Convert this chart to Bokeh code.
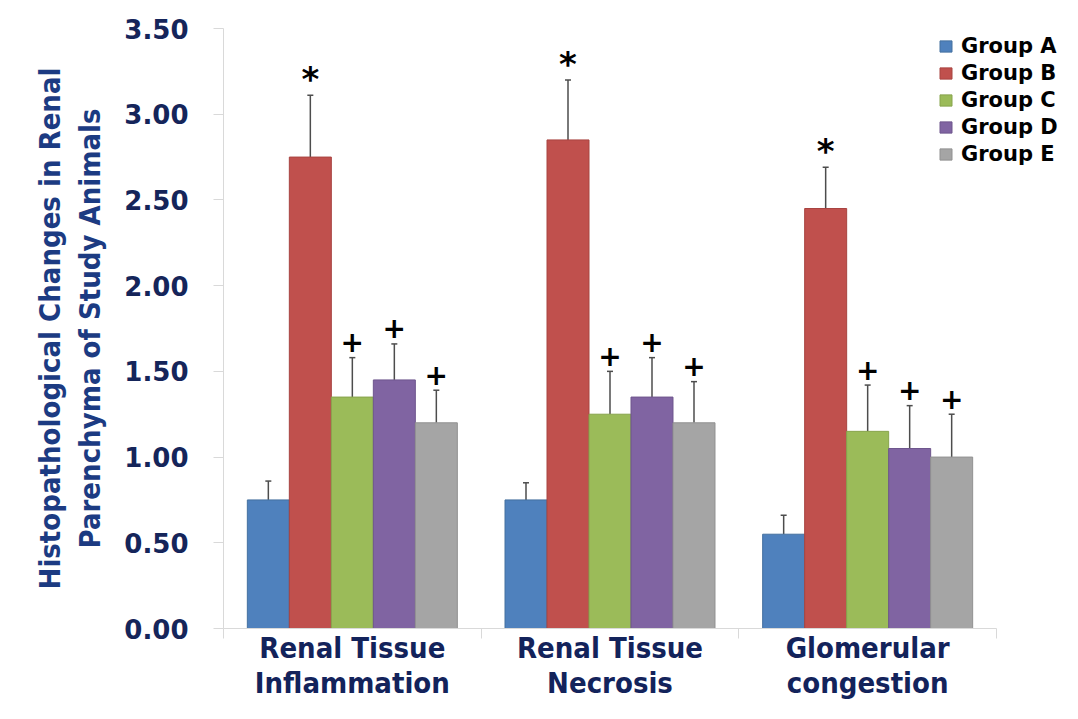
from bokeh.plotting import figure
from bokeh.models import (ColumnDataSource, Range1d, Whisker, TeeHead, Legend,
                          LegendItem, NumeralTickFormatter, FixedTicker)
from bokeh.core.properties import value
from bokeh.embed import file_html
from bokeh.resources import INLINE

# ---------------- data ----------------
categories = ["Renal Tissue\nInflammation", "Renal Tissue\nNecrosis", "Glomerular\ncongestion"]
groups = ["Group A", "Group B", "Group C", "Group D", "Group E"]

group_a = [0.75, 0.75, 0.55]
group_b = [2.75, 2.85, 2.45]
group_c = [1.35, 1.25, 1.15]
group_d = [1.45, 1.35, 1.05]
group_e = [1.20, 1.20, 1.00]

err_a = [0.11, 0.10, 0.11]
err_b = [0.36, 0.35, 0.24]
err_c = [0.23, 0.25, 0.27]
err_d = [0.21, 0.23, 0.25]
err_e = [0.19, 0.24, 0.25]

marks_a = ["", "", ""]
marks_b = ["*", "*", "*"]
marks_c = ["+", "+", "+"]
marks_d = ["+", "+", "+"]
marks_e = ["+", "+", "+"]

y_ticks = [0.0, 0.5, 1.0, 1.5, 2.0, 2.5, 3.0, 3.5]

values = [group_a, group_b, group_c, group_d, group_e]
errors = [err_a, err_b, err_c, err_d, err_e]
marks = [marks_a, marks_b, marks_c, marks_d, marks_e]

colors = ["#4F81BD", "#C0504D", "#9BBB59", "#8064A2", "#A5A5A5"]
edges = ["#44709F", "#A84441", "#87A44C", "#6E568D", "#919191"]

n_cat = len(categories)
bar_w = 0.163
offsets = [-2 * bar_w, -bar_w, 0.0, bar_w, 2 * bar_w]
centers = [i + 0.5 for i in range(n_cat)]

FIG_W, FIG_H = 1062, 703
LEFT, TOP, BOTTOM = 223, 28, 74
# frame extends to the right edge so the legend can overlap, axis stops at the last category
x_end = n_cat * (FIG_W - LEFT) / 773.0

narrow = "'Liberation Sans Narrow', 'Arial Narrow', 'DejaVu Sans Condensed', sans-serif"

p = figure(x_range=Range1d(0, x_end), y_range=Range1d(0, 3.5),
           width=FIG_W, height=FIG_H, output_backend="svg", toolbar_location=None,
           min_border_left=LEFT, min_border_right=0, min_border_top=TOP,
           min_border_bottom=BOTTOM)

p.xgrid.grid_line_color = None
p.ygrid.grid_line_color = None
p.outline_line_color = None
p.background_fill_color = "white"

items = []
for i, g in enumerate(groups):
    xs = [c + offsets[i] for c in centers]
    src = ColumnDataSource(dict(
        x=xs,
        val=values[i],
        upper=[v + e for v, e in zip(values[i], errors[i])],
        mark=marks[i],
    ))
    r = p.vbar(x="x", top="val", width=bar_w, bottom=0, source=src,
               fill_color=colors[i], line_color=edges[i], line_width=1)
    items.append(LegendItem(label=g, renderers=[r]))
    w = Whisker(base="x", lower="val", upper="upper", source=src,
                dimension="height", line_color="#4D4D4D", line_width=1.5,
                upper_head=TeeHead(size=6, line_color="#4D4D4D", line_width=1.5),
                lower_head=None)
    p.add_layout(w)
    is_star = marks[i][0] == "*"
    p.text(x="x", y="upper", text="mark", source=src,
           text_font=value("DejaVu Sans"), text_font_style="bold",
           text_font_size="34px" if is_star else "28px",
           text_align="center", text_baseline="middle",
           y_offset=-16, text_color="black")

legend = Legend(items=items, location=(715, 462), orientation="vertical")
legend.label_text_font = "DejaVu Sans"
legend.label_text_font_style = "bold"
legend.label_text_font_size = "21px"
legend.label_text_color = "black"
legend.label_height = 20
legend.glyph_height = 14
legend.glyph_width = 15
legend.label_standoff = 8
legend.spacing = 3
legend.padding = 0
legend.margin = 0
legend.border_line_color = None
legend.background_fill_alpha = 0
p.add_layout(legend)

# y axis
p.yaxis.ticker = FixedTicker(ticks=y_ticks)
p.yaxis.formatter = NumeralTickFormatter(format="0.00")
p.yaxis.axis_line_color = "#D9D9D9"
p.yaxis.major_tick_line_color = "#D9D9D9"
p.yaxis.major_tick_out = 10
p.yaxis.major_tick_in = 0
p.yaxis.minor_tick_line_color = None
p.yaxis.major_label_standoff = 25
p.yaxis.major_label_text_font = "DejaVu Sans"
p.yaxis.major_label_text_font_style = "bold"
p.yaxis.major_label_text_font_size = "26px"
p.yaxis.major_label_text_color = "#15255A"
p.yaxis.axis_label = "Histopathological Changes in Renal\nParenchyma of Study Animals"
p.yaxis.axis_label_text_font = narrow
p.yaxis.axis_label_text_font_style = "bold"
p.yaxis.axis_label_text_font_size = "29px"
p.yaxis.axis_label_text_color = "#1C3B82"
p.yaxis.axis_label_standoff = 14

# x axis: labels at category centres, small ticks at category boundaries
p.xaxis.ticker = FixedTicker(ticks=centers, minor_ticks=[float(i) for i in range(n_cat + 1)])
p.xaxis.major_label_overrides = {c: lab for c, lab in zip(centers, categories)}
p.xaxis.bounds = (0, n_cat)
p.xaxis.axis_line_color = "#D9D9D9"
p.xaxis.major_tick_line_color = None
p.xaxis.minor_tick_line_color = "#D9D9D9"
p.xaxis.minor_tick_out = 10
p.xaxis.minor_tick_in = 0
p.xaxis.major_label_standoff = -8
p.xaxis.major_label_text_font = narrow
p.xaxis.major_label_text_font_style = "bold"
p.xaxis.major_label_text_font_size = "29px"
p.xaxis.major_label_text_line_height = 1.05
p.xaxis.major_label_text_color = "#13235B"

open("out.html", "w").write(file_html(p, INLINE))
